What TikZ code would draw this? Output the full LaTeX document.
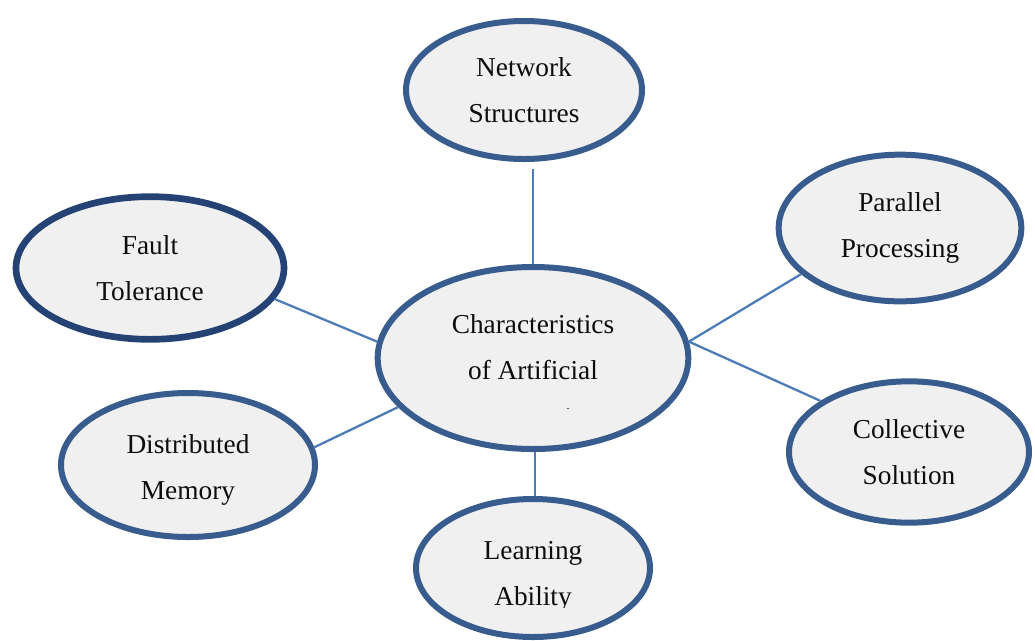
\documentclass[tikz,border=0pt]{standalone}
\usepackage{fontspec}
\setmainfont{Liberation Serif}
\usetikzlibrary{shapes.geometric}
\definecolor{Rim}{RGB}{56,92,142}
\definecolor{DarkRim}{RGB}{36,66,116}
\definecolor{Link}{RGB}{76,124,184}
\definecolor{Bubble}{RGB}{240,240,240}

\begin{document}
\begin{tikzpicture}[
  x=0.75pt, y=-0.75pt,
  bubble/.style={ellipse, draw=Rim, line width=4.5pt, fill=Bubble,
    inner sep=0pt, align=center, text=black!95,
    font=\fontsize{20.5}{34.5}\selectfont},
  words/.style={bubble, draw=none, fill=none},
  link/.style={draw=Link, line width=1.7pt}
  ]
\useasboundingbox (0,0) rectangle (1035,640);
\fill[white] (0,0) rectangle (1035,640);
\clip (0,0) rectangle (1035,640);

% the hub and its six features
\node[bubble, minimum width=233pt, minimum height=136.5pt] (core) at (533,358) {};
\node[words] (coretxt) at ([yshift=8pt]core.center)
  {Characteristics\\of Artificial};
\node[font=\small] (dot) at (568,409) {.};
\node[bubble, minimum width=177pt, minimum height=103.5pt] (net) at (524,90)
  {Network\\Structures};
\node[bubble, minimum width=182pt, minimum height=110pt] (par) at (900,228)
  {Parallel\\Processing};
\node[bubble, draw=DarkRim, line width=5pt, minimum width=201pt,
  minimum height=107pt] (fault) at (150,268) {Fault\\Tolerance};
\node[bubble, minimum width=190.5pt, minimum height=108pt] (dist) at (188,465) {};
\node[words] (disttxt) at ([yshift=-4pt]dist.center) {Distributed\\Memory};
\node[bubble, minimum width=180pt, minimum height=106pt] (coll) at (909,452)
  {Collective\\Solution};
\node[bubble, minimum width=175.5pt, minimum height=103.5pt] (learn) at (533,568) {};
% text box of the last bubble is cut off just under the second line
\begin{scope}
  \clip (0,0) rectangle (1035,607);
  \node[words] (learntxt) at ([yshift=-6pt]learn.center) {Learning\\Ability};
\end{scope}

% spokes
\draw[link, shorten >=5pt] (core.north) -- (core.north |- net.south);
\draw[link] (core.6) -- (par.205);
\draw[link] (core.6) -- (coll.150);
\draw[link] (core.174) -- (fault.346);
\draw[link] (core.200) -- (dist.8);
\draw[link] ([xshift=1.5pt]core.south) -- ([xshift=1.5pt]core.south |- learn.north);
\end{tikzpicture}
\end{document}
